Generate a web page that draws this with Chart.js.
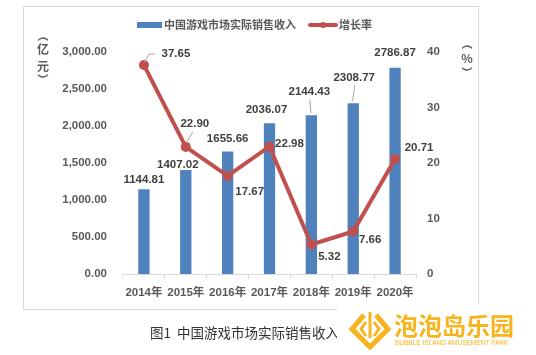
<!DOCTYPE html>
<html><head><meta charset="utf-8">
<script src="https://cdn.jsdelivr.net/npm/chart.js@4/dist/chart.umd.min.js"></script>
<style>html,body{margin:0;padding:0;background:#fff;}canvas{display:block;}</style>
</head><body>
<canvas id="c" width="536" height="355"></canvas>
<script>
const categories = ['2014年','2015年','2016年','2017年','2018年','2019年','2020年'];
const revenue = [1144.81, 1407.02, 1655.66, 2036.07, 2144.43, 2308.77, 2786.87];
const growth = [37.65, 22.90, 17.67, 22.98, 5.32, 7.66, 20.71];
const leftTicks = [0, 500, 1000, 1500, 2000, 2500, 3000];
const rightTicks = [0, 10, 20, 30, 40];
const seriesNames = ['中国游戏市场实际销售收入', '增长率'];
const caption = '图1  中国游戏市场实际销售收入';

// label placement (style): offsets from the mark, optional leader
const barLabelOffsets = [[0,-9],[-8,-5],[0,-13],[-3,-14],[-2,-23,true],[1,-25,true],[0,-15]];
const lineLabelOffsets = [[32,-11,'elbow'],[9,-23,'up'],[22,16],[20,-3],[18,12],[17,8],[24,-11]];

const NUM_FONT = 'bold 11.5px "Liberation Sans", "Noto Sans CJK SC", sans-serif';
const BLUE = '#4F81BD', RED = '#C0504D', TXT = '#404040';

function vertText(ctx, items, x) {
  items.forEach(([ch, y]) => {
    if (ch === '(') {
      ctx.beginPath(); ctx.arc(x, y + 5, 6, Math.PI * 1.2, Math.PI * 1.8); ctx.stroke();
    } else if (ch === ')') {
      ctx.beginPath(); ctx.arc(x, y - 5, 6, Math.PI * 0.2, Math.PI * 0.8); ctx.stroke();
    } else ctx.fillText(ch, x, y);
  });
}

const decor = {
  id: 'decor',
  beforeDraw(chart) {
    const ctx = chart.ctx;
    ctx.save();
    ctx.fillStyle = '#fff';
    ctx.fillRect(0, 0, chart.width, chart.height);
    ctx.strokeStyle = '#D9D9D9';
    ctx.lineWidth = 1;
    ctx.strokeRect(23.5, 6.5, 455, 303);
    // legend
    ctx.fillStyle = BLUE;
    ctx.fillRect(137, 22, 25, 6);
    ctx.strokeStyle = RED; ctx.lineWidth = 4; ctx.lineCap = 'round';
    ctx.beginPath(); ctx.moveTo(310, 25); ctx.lineTo(336, 25); ctx.stroke();
    ctx.fillStyle = RED; ctx.beginPath(); ctx.arc(323, 25, 3, 0, Math.PI*2); ctx.fill();
    ctx.fillStyle = '#595959';
    ctx.font = 'bold 11px "Noto Sans CJK SC", sans-serif';
    ctx.textBaseline = 'middle'; ctx.textAlign = 'left';
    ctx.fillText(seriesNames[0], 164, 25);
    ctx.fillText(seriesNames[1], 339, 25);
    // axis titles (vertical)
    ctx.font = 'bold 12px "Noto Sans CJK SC", sans-serif';
    ctx.textAlign = 'center';
    ctx.strokeStyle = '#595959'; ctx.lineWidth = 1.3; ctx.lineCap = 'butt';
    vertText(ctx, [['(', 39], ['亿', 49], ['元', 66], [')', 76]], 43);
    vertText(ctx, [['(', 47], ['%', 58], [')', 69]], 467);
    ctx.restore();
  },
  afterDraw(chart) {
    const ctx = chart.ctx;
    ctx.save();
    // caption
    ctx.fillStyle = '#333';
    ctx.font = '13.5px "Noto Sans CJK SC", sans-serif';
    ctx.textBaseline = 'middle'; ctx.textAlign = 'left';
    ctx.fillText(caption, 150, 333);
    // watermark logo
    ctx.fillStyle = '#fff';
    ctx.fillRect(337, 303, 199, 52);
    const Y = '#F8B41C';
    ctx.strokeStyle = Y; ctx.fillStyle = Y;
    ctx.lineWidth = 5; ctx.lineJoin = 'miter';
    ctx.beginPath();
    ctx.moveTo(364, 315); ctx.lineTo(352, 329); ctx.lineTo(370, 347); ctx.lineTo(388, 329); ctx.lineTo(376, 315);
    ctx.stroke();
    ctx.lineWidth = 3;
    ctx.beginPath(); ctx.moveTo(370, 312); ctx.lineTo(370, 338); ctx.stroke();
    ctx.beginPath(); ctx.moveTo(366, 322); ctx.lineTo(361, 329); ctx.lineTo(366, 336); ctx.stroke();
    ctx.beginPath(); ctx.moveTo(374, 322); ctx.lineTo(379, 329); ctx.lineTo(374, 336); ctx.stroke();
    ctx.font = 'bold 24px "Noto Sans CJK SC", sans-serif';
    ctx.textBaseline = 'middle';
    ctx.fillText('泡泡岛乐园', 394, 326);
    ctx.font = '6.5px "Liberation Sans", sans-serif';
    ctx.fillText('BUBBLE ISLAND AMUSEMENT PARK', 395, 343);
    ctx.restore();
  },
  afterDatasetsDraw(chart) {
    const ctx = chart.ctx;
    ctx.save();
    ctx.font = NUM_FONT; ctx.fillStyle = TXT;
    ctx.textAlign = 'center'; ctx.textBaseline = 'middle';
    ctx.strokeStyle = '#A6A6A6'; ctx.lineWidth = 1;
    const bars = chart.getDatasetMeta(0).data;
    bars.forEach((el, i) => {
      const [dx, dy, lead] = barLabelOffsets[i];
      const x = el.x + dx, y = el.y + dy;
      if (lead) { ctx.beginPath(); ctx.moveTo(x+0.5, y+7); ctx.lineTo(el.x-0.5, el.y-2); ctx.stroke(); }
      ctx.fillText(revenue[i].toFixed(2), x, y);
    });
    const pts = chart.getDatasetMeta(1).data;
    pts.forEach((el, i) => {
      const [dx, dy, lead] = lineLabelOffsets[i];
      const x = el.x + dx, y = el.y + dy;
      if (lead === 'elbow') {
        ctx.beginPath(); ctx.moveTo(el.x, el.y-2); ctx.lineTo(el.x+5, y); ctx.lineTo(x-21, y); ctx.stroke();
      } else if (lead === 'up') {
        ctx.beginPath(); ctx.moveTo(el.x+1, el.y-5); ctx.lineTo(x-2, y+8); ctx.stroke();
      }
      ctx.fillText(growth[i].toFixed(2), x, y);
    });
    ctx.restore();
  }
};

new Chart(document.getElementById('c'), {
  data: {
    labels: categories,
    datasets: [
      { type: 'bar', label: seriesNames[0], data: revenue, yAxisID: 'y', backgroundColor: BLUE,
        barPercentage: 0.27, categoryPercentage: 1, order: 2 },
      { type: 'line', label: seriesNames[1], data: growth, yAxisID: 'y1', borderColor: RED, backgroundColor: RED,
        borderWidth: 4, pointRadius: 5, pointHoverRadius: 5, pointBackgroundColor: RED, pointBorderWidth: 0,
        tension: 0, order: 1 }
    ]
  },
  options: {
    responsive: false, animation: false,
    layout: { padding: { top: 52, bottom: 0, left: 0, right: 0 } },
    plugins: { legend: { display: false }, tooltip: { enabled: false } },
    scales: {
      x: {
        offset: true,
        grid: { display: true, drawOnChartArea: false, drawTicks: true, tickLength: 5, color: '#D9D9D9', offset: true },
        border: { color: '#D9D9D9' },
        ticks: { color: '#595959', font: { family: '"Liberation Sans", "Noto Sans CJK SC", sans-serif', size: 11.5, weight: 'bold' }, padding: 7, maxRotation: 0 },
        afterFit(s) { s.height = 81; }
      },
      y: {
        position: 'left', min: 0, max: 3000,
        afterBuildTicks(s) { s.ticks = leftTicks.map(v => ({ value: v })); },
        grid: { display: false, drawTicks: false },
        border: { display: false },
        ticks: { color: '#595959', font: { family: '"Liberation Sans", sans-serif', size: 11.5, weight: 'bold' }, padding: 16,
          callback: v => v.toLocaleString('en-US', { minimumFractionDigits: 2, maximumFractionDigits: 2 }) },
        afterFit(s) { s.width = 123; }
      },
      y1: {
        position: 'right', min: 0, max: 40,
        afterBuildTicks(s) { s.ticks = rightTicks.map(v => ({ value: v })); },
        grid: { display: false, drawTicks: false },
        border: { display: false },
        ticks: { color: '#595959', font: { family: '"Liberation Sans", sans-serif', size: 11.5, weight: 'bold' }, padding: 11 },
        afterFit(s) { s.width = 120; }
      }
    }
  },
  plugins: [decor]
});
</script>
</body></html>
